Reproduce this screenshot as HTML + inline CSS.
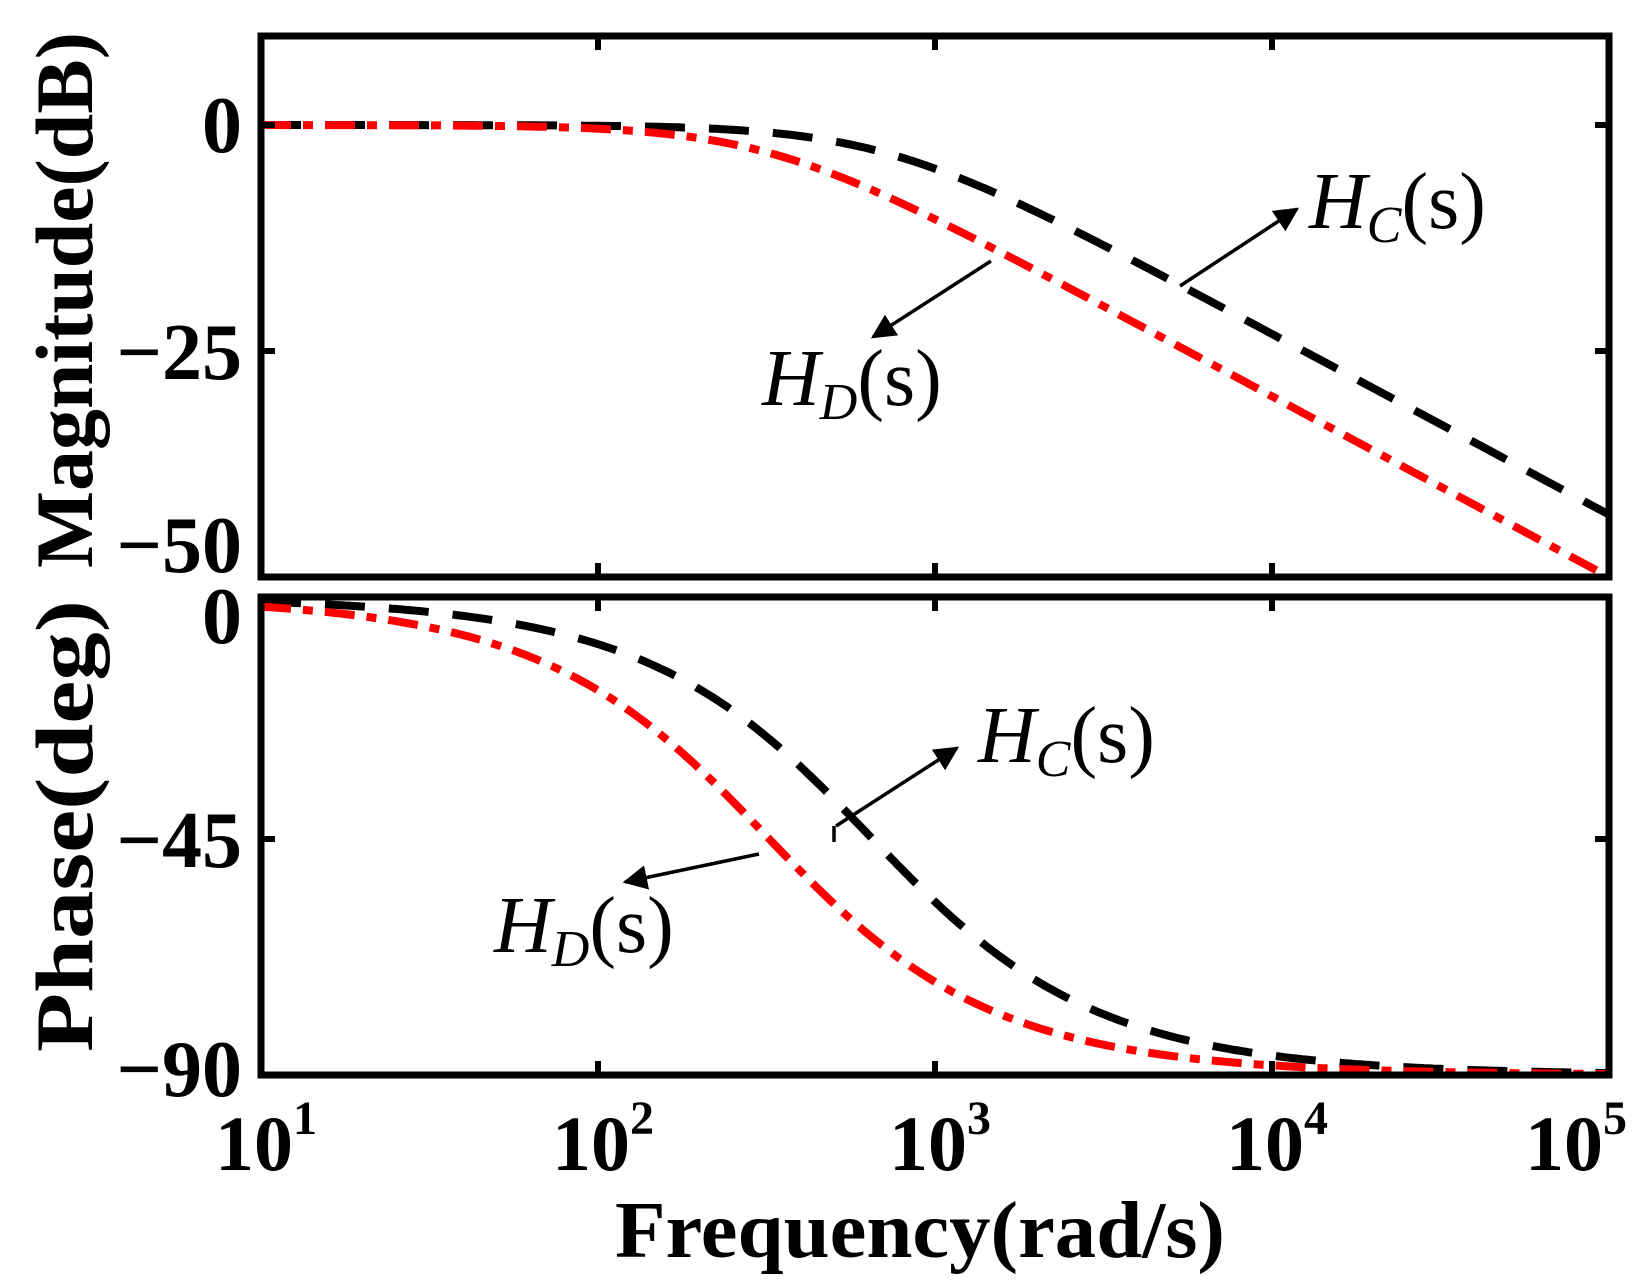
<!DOCTYPE html>
<html><head><meta charset="utf-8"><style>
html,body{margin:0;padding:0;background:#fff;}
svg{display:block;}
text{font-family:"Liberation Serif",serif;}
</style></head><body>
<svg id="s" width="1649" height="1287" viewBox="0 0 1649 1287" xmlns="http://www.w3.org/2000/svg">
<defs>
<clipPath id="c1"><rect x="261" y="36" width="1348" height="541"/></clipPath>
<clipPath id="c2"><rect x="261" y="597" width="1348" height="478"/></clipPath>
<marker id="ah" viewBox="0 0 10 10" refX="9" refY="5" markerWidth="7" markerHeight="7" orient="auto"><path d="M0,0 L10,5 L0,10 z" fill="#000"/></marker>
</defs>
<g id="curves"></g>
<g fill="none" stroke="#000" stroke-width="7">
<rect x="261" y="36" width="1348" height="541"/>
<rect x="261" y="597" width="1348" height="478"/>
</g>
<g id="ticks" stroke="#000" stroke-width="6"></g>
<g font-weight="bold" font-size="80" text-anchor="end">
<text x="242" y="152">0</text>
<text x="242" y="379">−25</text>
<text x="242" y="572">−50</text>
<text x="242" y="643">0</text>
<text x="242" y="867">−45</text>
<text x="242" y="1096">−90</text>
</g>
<g font-weight="bold" font-size="78">
<text x="215" y="1170">10<tspan font-size="48" dy="-36">1</tspan></text>
<text x="552" y="1170">10<tspan font-size="48" dy="-36">2</tspan></text>
<text x="889" y="1170">10<tspan font-size="48" dy="-36">3</tspan></text>
<text x="1226" y="1170">10<tspan font-size="48" dy="-36">4</tspan></text>
<text x="1525" y="1170">10<tspan font-size="48" dy="-36">5</tspan></text>
</g>
<text x="615" y="1257" font-weight="bold" font-size="80" textLength="610" lengthAdjust="spacingAndGlyphs">Frequency(rad/s)</text>
<text transform="translate(92,568) rotate(-90)" font-weight="bold" font-size="82" textLength="536" lengthAdjust="spacingAndGlyphs">Magnitude(dB)</text>
<text transform="translate(92,1052) rotate(-90)" font-weight="bold" font-size="82" textLength="452" lengthAdjust="spacingAndGlyphs">Phase(deg)</text>
<g stroke="#000" stroke-width="3.5" fill="none">
<line x1="1180" y1="286" x2="1297" y2="209" marker-end="url(#ah)"/>
<line x1="991" y1="261" x2="873" y2="337" marker-end="url(#ah)"/>
<line x1="836" y1="826" x2="957" y2="748" marker-end="url(#ah)"/>
<line x1="834" y1="826" x2="834" y2="842"/>
<line x1="759" y1="854" x2="625" y2="882" marker-end="url(#ah)"/>
</g>
<g font-size="80">
<text x="1309" y="228" font-style="italic">H<tspan font-size="52" dy="14">C</tspan><tspan font-style="normal" dy="-14">(s)</tspan></text>
<text x="762" y="405" font-style="italic">H<tspan font-size="52" dy="14">D</tspan><tspan font-style="normal" dy="-14">(s)</tspan></text>
<text x="978" y="762" font-style="italic">H<tspan font-size="52" dy="14">C</tspan><tspan font-style="normal" dy="-14">(s)</tspan></text>
<text x="494" y="952" font-style="italic">H<tspan font-size="52" dy="14">D</tspan><tspan font-style="normal" dy="-14">(s)</tspan></text>
</g>
</svg>
<script>
(function(){
var NS="http://www.w3.org/2000/svg";
function X(w){return 261+(Math.log10(w)-1)*337;}
function YM(db){return 125-db*9.04;}
function YP(d){return 597+(-d)/90*478;}
function path(wc,mag){
  var s="";
  for(var i=0;i<=400;i++){
    var lw=1+4*i/400, w=Math.pow(10,lw), r=w/wc;
    var y= mag? YM(-10*Math.log10(1+r*r)) : YP(-Math.atan(r)*180/Math.PI);
    s+=(i?"L":"M")+X(w).toFixed(1)+","+y.toFixed(1);
  }
  return s;
}
var g=document.getElementById("curves");
function add(d,col,dash,clip){
  var p=document.createElementNS(NS,"path");
  p.setAttribute("d",d);p.setAttribute("fill","none");p.setAttribute("stroke",col);
  p.setAttribute("stroke-width","8");p.setAttribute("stroke-dasharray",dash);
  p.setAttribute("clip-path","url(#"+clip+")");g.appendChild(p);
}
add(path(700,true),"#000","40 24","c1");
add(path(316,true),"#f00","30 12 10 12","c1");
add(path(640,false),"#000","40 24","c2");
add(path(316,false),"#f00","30 12 10 12","c2");
var t=document.getElementById("ticks");
function ln(a,b,c,d){var l=document.createElementNS(NS,"line");l.setAttribute("x1",a);l.setAttribute("y1",b);l.setAttribute("x2",c);l.setAttribute("y2",d);t.appendChild(l);}
[598,935,1272].forEach(function(x){ln(x,36,x,50);ln(x,577,x,563);ln(x,597,x,611);ln(x,1075,x,1061);});
[125,351].forEach(function(y){ln(261,y,275,y);ln(1609,y,1595,y);});
[839].forEach(function(y){ln(261,y,275,y);ln(1609,y,1595,y);});
})();
</script>
</body></html>
